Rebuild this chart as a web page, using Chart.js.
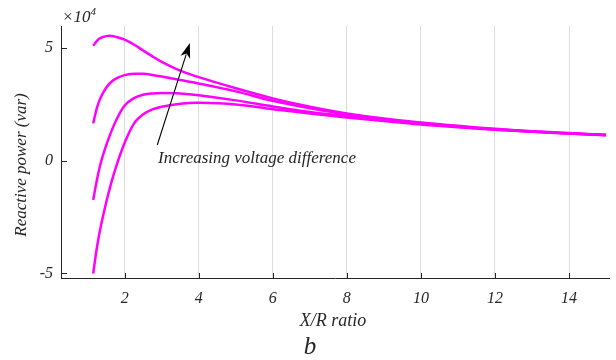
<!DOCTYPE html>
<html>
<head>
<meta charset="utf-8">
<script src="https://cdn.jsdelivr.net/npm/chart.js@4"></script>
<style>
  html, body { margin: 0; padding: 0; background: #fff; }
  #wrap { width: 616px; height: 360px; }
</style>
</head>
<body>
<div id="wrap"><canvas id="reactivePower"></canvas></div>
<script>
// X/R ratio samples, shared by the four curves
const xrRatio = [1.15, 1.25, 1.35, 1.5, 1.65, 1.8, 2, 2.25, 2.5, 2.75, 3, 3.5, 4, 5, 6, 7, 8, 9, 10, 11, 12, 13, 14, 15];

// reactive power in units of 1e4 var, from largest to smallest voltage difference
const qCurve1 = [5.10, 5.32, 5.45, 5.53, 5.54, 5.48, 5.38, 5.16, 4.89, 4.63, 4.39, 4.00, 3.71, 3.22, 2.77, 2.40, 2.10, 1.88, 1.70, 1.55, 1.42, 1.31, 1.23, 1.15];
const qCurve2 = [1.66, 2.35, 2.80, 3.24, 3.52, 3.68, 3.80, 3.86, 3.86, 3.81, 3.74, 3.58, 3.43, 3.08, 2.66, 2.33, 2.06, 1.84, 1.67, 1.53, 1.40, 1.30, 1.22, 1.14];
const qCurve3 = [-1.74, -0.85, -0.12, 0.68, 1.35, 1.90, 2.45, 2.78, 2.93, 2.99, 3.01, 2.99, 2.91, 2.68, 2.41, 2.17, 1.98, 1.80, 1.64, 1.51, 1.39, 1.30, 1.21, 1.14];
const qCurve4 = [-5.00, -3.85, -2.95, -1.85, -0.90, -0.10, 0.80, 1.65, 2.06, 2.28, 2.40, 2.53, 2.57, 2.50, 2.29, 2.10, 1.92, 1.76, 1.61, 1.49, 1.38, 1.29, 1.21, 1.13];

const xTicks = [2, 4, 6, 8, 10, 12, 14];
const yTicks = [-5, 0, 5];

const serif = "'Liberation Serif', 'DejaVu Serif', serif";
const ink = "#262626";

// arrow annotation: tail and tip in data units
const arrowTail = [2.88, 0.70];
const arrowTip = [3.76, 5.23];

const toPoints = (ys) => ys.map((y, i) => ({ x: xrRatio[i], y: y }));

const curve = (ys) => ({
  data: toPoints(ys),
  borderColor: "#ff00ff",
  borderWidth: 2.5,
  pointRadius: 0,
  fill: false,
  tension: 0.35,
});

// inward ticks, arrow and text labels
const extras = {
  id: "extras",
  afterDatasetsDraw(chart) {
    const { ctx, chartArea: a, scales: { x, y } } = chart;
    ctx.save();

    ctx.strokeStyle = ink;
    ctx.lineWidth = 1;
    ctx.beginPath();
    xTicks.forEach((v) => {
      const px = Math.round(x.getPixelForValue(v)) + 0.5;
      ctx.moveTo(px, a.bottom);
      ctx.lineTo(px, a.bottom - 5);
    });
    yTicks.forEach((v) => {
      const py = Math.round(y.getPixelForValue(v)) + 0.5;
      ctx.moveTo(a.left, py);
      ctx.lineTo(a.left + 6, py);
    });
    ctx.stroke();

    // arrow
    const tx = x.getPixelForValue(arrowTail[0]), ty = y.getPixelForValue(arrowTail[1]);
    const hx = x.getPixelForValue(arrowTip[0]), hy = y.getPixelForValue(arrowTip[1]);
    const ang = Math.atan2(hy - ty, hx - tx);
    const headLen = 15, headHalf = 5;
    const bx = hx - headLen * Math.cos(ang), by = hy - headLen * Math.sin(ang);
    ctx.strokeStyle = "#000";
    ctx.lineWidth = 1.1;
    ctx.beginPath();
    ctx.moveTo(tx, ty);
    ctx.lineTo(bx + 3 * Math.cos(ang), by + 3 * Math.sin(ang));
    ctx.stroke();
    ctx.fillStyle = "#000";
    ctx.beginPath();
    ctx.moveTo(hx, hy);
    ctx.lineTo(bx - headHalf * Math.sin(ang), by + headHalf * Math.cos(ang));
    ctx.lineTo(bx + 4 * Math.cos(ang), by + 4 * Math.sin(ang));
    ctx.lineTo(bx + headHalf * Math.sin(ang), by - headHalf * Math.cos(ang));
    ctx.closePath();
    ctx.fill();

    ctx.fillStyle = ink;
    ctx.textBaseline = "alphabetic";
    ctx.textAlign = "left";
    ctx.font = "italic 17px " + serif;
    ctx.fillText("Increasing voltage difference", 158, 163);

    // exponent label
    ctx.font = "italic 17px " + serif;
    ctx.fillText("\u00d710", 62, 22);
    const w = ctx.measureText("\u00d710").width;
    ctx.font = "italic 11px " + serif;
    ctx.fillText("4", 62 + w, 15);

    // axis titles
    ctx.textAlign = "center";
    ctx.textBaseline = "middle";
    ctx.font = "italic 18px " + serif;
    ctx.fillText("X/R ratio", 333, 321);
    ctx.font = "italic 25px " + serif;
    ctx.fillText("b", 310, 347);

    ctx.translate(22, 165);
    ctx.rotate(-Math.PI / 2);
    ctx.font = "italic 17px " + serif;
    ctx.fillText("Reactive power (var)", 0, 0);

    ctx.restore();
  },
};

const ctx = document.getElementById("reactivePower");
new Chart(ctx, {
  type: "line",
  data: {
    datasets: [curve(qCurve1), curve(qCurve2), curve(qCurve3), curve(qCurve4)],
  },
  options: {
    responsive: true,
    maintainAspectRatio: false,
    animation: false,
    layout: { padding: { top: 26, right: 7, left: 0, bottom: 0 } },
    plugins: { legend: { display: false }, tooltip: { enabled: false } },
    scales: {
      x: {
        type: "linear",
        min: 0.28,
        max: 15.08,
        afterBuildTicks: (s) => { s.ticks = xTicks.map((v) => ({ value: v })); },
        afterFit: (s) => { s.height = 82; },
        grid: { display: true, color: "#dcdcdc", lineWidth: 1, drawTicks: false },
        border: { display: true, color: ink, width: 1 },
        ticks: {
          padding: 11,
          maxRotation: 0,
          color: ink,
          font: { family: serif, style: "italic", size: 16 },
        },
      },
      y: {
        type: "linear",
        min: -5.2,
        max: 5.98,
        afterBuildTicks: (s) => { s.ticks = yTicks.map((v) => ({ value: v })); },
        afterFit: (s) => { s.width = 61; },
        grid: { display: true, color: "rgba(0,0,0,0)", drawTicks: false },
        border: { display: true, color: ink, width: 1 },
        ticks: {
          padding: 8,
          color: ink,
          font: { family: serif, style: "italic", size: 16 },
        },
      },
    },
  },
  plugins: [extras],
});
</script>
</body>
</html>
